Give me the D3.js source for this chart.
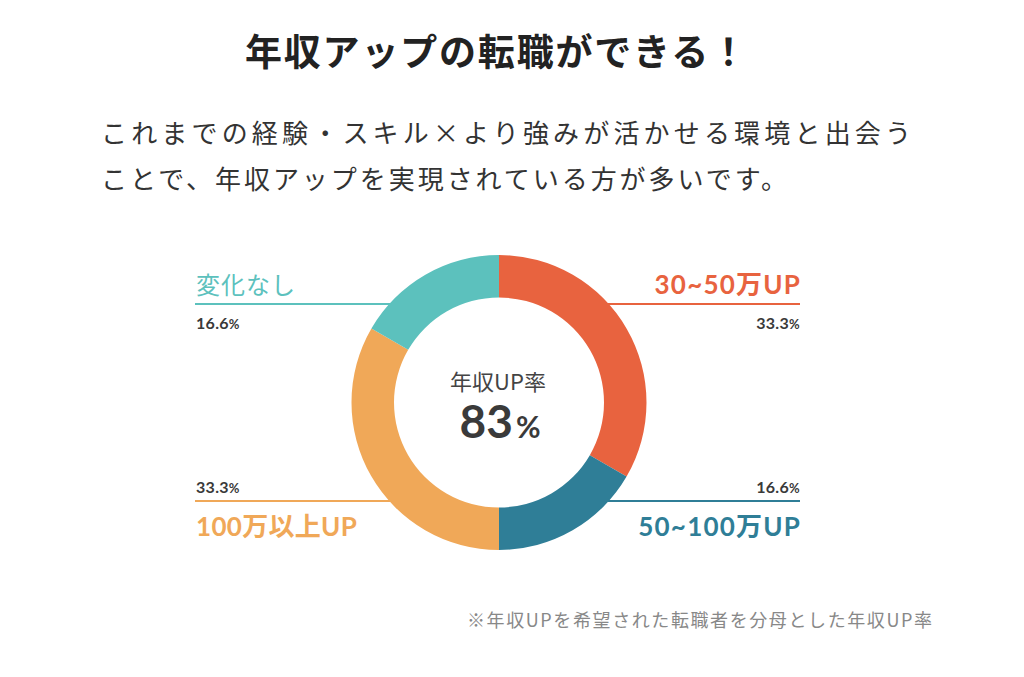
<!DOCTYPE html>
<html><head><meta charset="utf-8">
<script src="https://cdn.jsdelivr.net/npm/d3@7"></script>
<style>
html,body{margin:0;padding:0;background:#fff;}
svg{display:block;}
</style></head>
<body>
<svg id="chart" width="1024" height="677"></svg>
<script>
const categories = ["30~50万UP", "50~100万UP", "100万以上UP", "変化なし"];
const values = [33.3, 16.6, 33.3, 16.6];
const percentLabels = ["33.3", "16.6", "33.3", "16.6"];
const colors = ["#E8633F", "#2F7E97", "#F0A858", "#5CC1BD"];
const titleText = "年収アップの転職ができる！";
const subLines = ["これまでの経験・スキル×より強みが活かせる環境と出会う", "ことで、年収アップを実現されている方が多いです。"];
const centerLabel = "年収UP率";
const centerValue = "83";
const footnote = "※年収UPを希望された転職者を分母とした年収UP率";

const svg = d3.select("#chart");
const JP = "'Noto Sans CJK JP','Noto Sans',sans-serif";
const NUM = "Lato,'Noto Sans CJK JP',sans-serif";

svg.append("text").attr("x", 245).attr("y", 66)
  .attr("font-family", JP).attr("font-weight", 700).attr("font-size", 37)
  .attr("textLength", 502).attr("lengthAdjust", "spacing")
  .attr("fill", "#222").text(titleText);

const subWidths = [810, 686];
svg.selectAll("text.sub").data(subLines).join("text").attr("class", "sub")
  .attr("x", 101).attr("y", (d, i) => 143 + i * 46)
  .attr("font-family", JP).attr("font-size", 26)
  .attr("textLength", (d, i) => subWidths[i]).attr("lengthAdjust", "spacing")
  .attr("fill", "#333").text(d => d);

const cx = 499, cy = 402.5, R = 147.5, r = 105;
const g = svg.append("g").attr("transform", `translate(${cx},${cy})`);
const pie = d3.pie().sort(null).value(d => d)(values);
const arc = d3.arc().innerRadius(r).outerRadius(R);
g.selectAll("path").data(pie).join("path").attr("d", arc).attr("fill", (d, i) => colors[i]);

const layout = [
  {side: "right", y: 304, top: true, ls: 1.2},
  {side: "right", y: 501, top: false, ls: 1.2},
  {side: "left", y: 501, top: false, ls: 0.3},
  {side: "left", y: 304, top: true, ls: 1}
];
layout.forEach((L, i) => {
  const dy = L.y - cy;
  const dx = Math.sqrt(R * R - dy * dy);
  const x1 = L.side === "left" ? 195 : 800;
  const x2 = L.side === "left" ? cx - dx + 1 : cx + dx - 1;
  svg.append("line").attr("x1", x1).attr("x2", x2).attr("y1", L.y).attr("y2", L.y)
    .attr("stroke", colors[i]).attr("stroke-width", 2);
  const anchor = L.side === "left" ? "start" : "end";
  const tx = L.side === "left" ? 196 : 801;
  const nameY = L.top ? L.y - 10 : L.y + 35;
  const pctY = L.top ? L.y + 25 : L.y - 8;
  svg.append("text").attr("x", tx).attr("y", nameY).attr("text-anchor", anchor)
    .attr("font-family", NUM).attr("font-weight", i === 3 ? 400 : 700)
    .attr("font-size", i === 3 ? 24 : 26)
    .attr("letter-spacing", L.ls)
    .attr("fill", colors[i]).text(categories[i]);
  const pct = svg.append("text").attr("x", L.side === "left" ? 196 : 800).attr("y", pctY).attr("text-anchor", anchor)
    .attr("font-family", NUM).attr("font-weight", 700).attr("font-size", 16)
    .attr("letter-spacing", 0.3).attr("fill", "#3a3a3a");
  pct.append("tspan").text(percentLabels[i]);
  pct.append("tspan").attr("font-size", 13).text("%");
});

svg.append("text").attr("x", cx - 1).attr("y", 390).attr("text-anchor", "middle")
  .attr("font-family", JP).attr("font-size", 22).attr("fill", "#444").text(centerLabel);
const cv = svg.append("text").attr("x", cx + 1).attr("y", 438).attr("text-anchor", "middle")
  .attr("font-family", NUM).attr("font-weight", 700).attr("font-size", 46).attr("fill", "#3a3a3a");
cv.append("tspan").text(centerValue);
cv.append("tspan").attr("font-size", 30).attr("dx", 3).text("%");

svg.append("text").attr("x", 467).attr("y", 627)
  .attr("font-family", JP).attr("font-size", 18)
  .attr("textLength", 465).attr("lengthAdjust", "spacing")
  .attr("fill", "#888").text(footnote);
</script>
</body></html>
